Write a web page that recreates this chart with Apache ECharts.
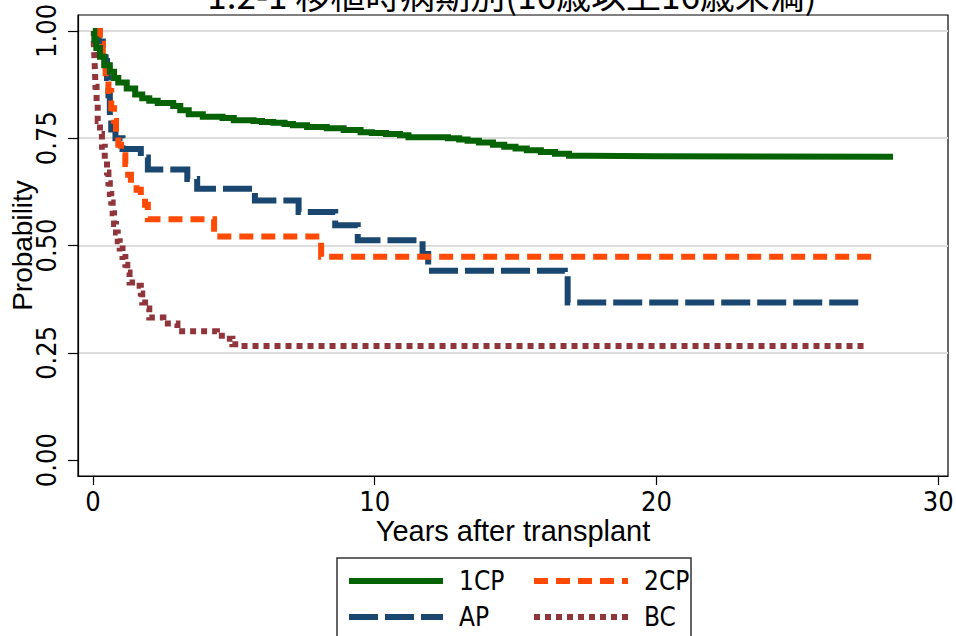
<!DOCTYPE html>
<html><head><meta charset="utf-8">
<script src="https://cdn.jsdelivr.net/npm/echarts@6/dist/echarts.min.js"></script>
<style>html,body{margin:0;padding:0;background:#fff}#c{width:956px;height:636px}</style>
</head><body><div id="c"></div>
<script>
const titleText = '1.2-1 移植時病期別(16歳以上16歳未満)';
const seriesNames = ['1CP', '2CP', 'AP', 'BC'];
const xTicks = [0, 10, 20, 30];
const yTicks = [0, 0.25, 0.5, 0.75, 1];

const t1CP = [0,0.05,0.12,0.25,0.4,0.6,0.75,0.9,1.2,1.5,1.75,2.0,2.3,2.85,3.1,3.4,3.9,4.6,5.0,5.7,6.0,6.4,6.8,7.1,7.6,8.3,8.9,9.5,9.9,10.4,10.9,11.2,12.6,13.0,13.3,13.7,14.2,14.6,15.0,15.4,15.9,16.4,16.9,17.5,20.0,28.4];
const s1CP = [1,0.98,0.96,0.94,0.92,0.905,0.89,0.88,0.866,0.852,0.843,0.837,0.832,0.825,0.815,0.806,0.80,0.797,0.792,0.79,0.788,0.786,0.783,0.78,0.776,0.773,0.769,0.764,0.762,0.76,0.757,0.752,0.75,0.747,0.744,0.74,0.735,0.73,0.726,0.722,0.718,0.714,0.709,0.708,0.707,0.707];

const t2CP = [0,0.25,0.35,0.45,0.55,0.65,0.75,0.82,0.9,1.0,1.15,1.25,1.35,1.55,1.7,1.85,1.95,4.3,8.1,27.75];
const s2CP = [1,0.97,0.93,0.89,0.86,0.82,0.79,0.76,0.735,0.71,0.69,0.665,0.645,0.63,0.61,0.595,0.561,0.521,0.474,0.474];

const tAP = [0,0.2,0.35,0.45,0.5,0.55,0.6,0.65,0.8,1.05,1.7,1.95,3.35,3.7,5.75,7.3,8.6,9.4,11.7,11.9,16.75,16.85,27.2];
const sAP = [1,0.975,0.96,0.93,0.89,0.85,0.80,0.77,0.75,0.725,0.705,0.677,0.655,0.632,0.605,0.578,0.547,0.512,0.48,0.441,0.43,0.367,0.367];

const tBC = [0,0.03,0.05,0.07,0.09,0.13,0.17,0.25,0.32,0.42,0.5,0.55,0.6,0.65,0.7,0.75,0.82,0.88,0.95,1.05,1.15,1.22,1.3,1.55,1.7,1.75,1.85,2.0,2.5,3.0,4.4,4.75,4.95,5.2,27.5];
const sBC = [1,0.97,0.94,0.91,0.87,0.83,0.79,0.76,0.73,0.70,0.67,0.645,0.62,0.60,0.575,0.55,0.53,0.51,0.493,0.473,0.455,0.437,0.414,0.406,0.388,0.367,0.353,0.332,0.318,0.30,0.29,0.283,0.27,0.266,0.266];

const colors = ['#056305', '#ff4a05', '#1a476f', '#90353b'];
const dashes = ['solid', [14, 8], [29, 7], [6, 5]];
const times = [t1CP, t2CP, tAP, tBC];
const survs = [s1CP, s2CP, sAP, sBC];

const numFont = "'Liberation Sans Narrow','DejaVu Sans Condensed','Liberation Sans',sans-serif";
const nameFont = "'Liberation Sans','Noto Sans',sans-serif";

const chart = echarts.init(document.getElementById('c'), null, {renderer: 'svg'});

const series = seriesNames.map((n, k) => ({
  name: n,
  type: 'line',
  step: 'end',
  showSymbol: false,
  symbol: 'none',
  animation: false,
  z: 3 + (3 - k),
  lineStyle: {width: 6, color: colors[k], type: dashes[k], cap: 'butt', join: 'miter'},
  data: times[k].map((t, i) => [t, survs[k][i]])
}));

const legendItems = [
  {k: 0, x: 349, y: 581}, {k: 1, x: 534, y: 581},
  {k: 2, x: 349, y: 617}, {k: 3, x: 534, y: 617}
];
const graphics = [
  {type: 'text', x: 512, y: -7, style: {text: titleText, font: "35px 'Noto Sans CJK JP'", fill: '#000', textAlign: 'center', textVerticalAlign: 'middle'}},
  {type: 'rect', shape: {x: 337, y: 558, width: 354, height: 100}, style: {fill: '#fff', stroke: '#333', lineWidth: 1.5}}
];
legendItems.forEach(it => {
  graphics.push({type: 'line', shape: {x1: it.x, y1: it.y, x2: it.x + 94, y2: it.y},
    style: {stroke: colors[it.k], lineWidth: 6, lineDash: dashes[it.k] === 'solid' ? null : dashes[it.k]}});
  graphics.push({type: 'text', x: it.x + 110, y: it.y, style: {text: seriesNames[it.k], font: "26px " + numFont, fill: '#000', textVerticalAlign: 'middle'}});
});

chart.setOption({
  animation: false,
  backgroundColor: '#fff',
  grid: {left: 78, right: 8, top: 15, bottom: 160, show: true, borderColor: '#000', borderWidth: 1.2,
    backgroundColor: 'transparent', outerBoundsMode: 'none', containLabel: false},
  xAxis: {
    type: 'value', min: -0.53, max: 30.35,
    name: 'Years after transplant', nameLocation: 'middle', nameGap: 40, nameMoveOverlap: false,
    nameTextStyle: {fontFamily: nameFont, fontSize: 29, color: '#000'},
    axisLine: {show: true, onZero: false, lineStyle: {color: '#000', width: 1.2}},
    axisTick: {show: true, length: 9, customValues: xTicks, lineStyle: {color: '#000', width: 1.2}},
    axisLabel: {customValues: xTicks, margin: 12, fontFamily: numFont, fontSize: 27, color: '#000'},
    splitLine: {show: false}
  },
  yAxis: {
    type: 'value', min: -0.037, max: 1.037,
    name: 'Probability', nameLocation: 'middle', nameGap: 42, nameRotate: 90, nameMoveOverlap: false,
    nameTextStyle: {fontFamily: nameFont, fontSize: 28, color: '#000'},
    axisLine: {show: true, onZero: false, lineStyle: {color: '#000', width: 1.2}},
    axisTick: {show: true, length: 10, customValues: yTicks, lineStyle: {color: '#000', width: 1.2}},
    axisLabel: {customValues: yTicks, rotate: 90, margin: 18, fontFamily: numFont, fontSize: 27, color: '#000',
      formatter: v => v.toFixed(2)},
    splitLine: {show: true, lineStyle: {color: ['rgba(0,0,0,0)', '#dddddd', '#dddddd', '#dddddd', '#dddddd'], width: 2}}
  },
  series: series,
  graphic: graphics
});
</script></body></html>
